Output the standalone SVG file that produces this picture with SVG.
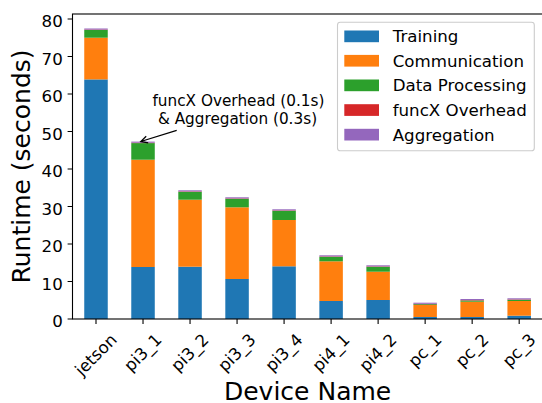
<svg xmlns="http://www.w3.org/2000/svg" width="542" height="403" viewBox="0 0 542 403">
<style>
text{font-family:"DejaVu Sans","Liberation Sans",sans-serif;fill:#000}
.tk{font-size:16.67px}
.yl{text-anchor:end}
.xl{text-anchor:middle;dominant-baseline:central}
.ax{font-size:25px;text-anchor:middle}
.an{font-size:15.28px;text-anchor:middle}
.tr{fill:#1f77b4}.co{fill:#ff7f0e}.dp{fill:#2ca02c}.fx{fill:#d62728}.ag{fill:#9467bd}
.tick{stroke:#000;stroke-width:1.1}
</style>
<rect width="542" height="403" fill="#fff"/>
<g id="bars">
<g id="bar-jetson"><rect class="tr" x="84.25" y="79.4" width="23.5" height="239.6"/><rect class="co" x="84.25" y="37.7" width="23.5" height="41.7"/><rect class="dp" x="84.25" y="30" width="23.5" height="7.7"/><rect class="fx" x="84.25" y="29.6" width="23.5" height="0.4"/><rect class="ag" x="84.25" y="28.5" width="23.5" height="1.1"/></g>
<g id="bar-pi3_1"><rect class="tr" x="131.27" y="267" width="23.5" height="52"/><rect class="co" x="131.27" y="159.7" width="23.5" height="107.3"/><rect class="dp" x="131.27" y="143.1" width="23.5" height="16.6"/><rect class="fx" x="131.27" y="142.7" width="23.5" height="0.4"/><rect class="ag" x="131.27" y="141.6" width="23.5" height="1.1"/></g>
<g id="bar-pi3_2"><rect class="tr" x="178.29" y="266.7" width="23.5" height="52.3"/><rect class="co" x="178.29" y="199.7" width="23.5" height="67"/><rect class="dp" x="178.29" y="191.8" width="23.5" height="7.9"/><rect class="fx" x="178.29" y="191.4" width="23.5" height="0.4"/><rect class="ag" x="178.29" y="190.3" width="23.5" height="1.1"/></g>
<g id="bar-pi3_3"><rect class="tr" x="225.31" y="279" width="23.5" height="40"/><rect class="co" x="225.31" y="207.3" width="23.5" height="71.7"/><rect class="dp" x="225.31" y="198.8" width="23.5" height="8.5"/><rect class="fx" x="225.31" y="198.4" width="23.5" height="0.4"/><rect class="ag" x="225.31" y="197.3" width="23.5" height="1.1"/></g>
<g id="bar-pi3_4"><rect class="tr" x="272.33" y="266.3" width="23.5" height="52.7"/><rect class="co" x="272.33" y="220" width="23.5" height="46.3"/><rect class="dp" x="272.33" y="210.8" width="23.5" height="9.2"/><rect class="fx" x="272.33" y="210.4" width="23.5" height="0.4"/><rect class="ag" x="272.33" y="209.3" width="23.5" height="1.1"/></g>
<g id="bar-pi4_1"><rect class="tr" x="319.35" y="301" width="23.5" height="18"/><rect class="co" x="319.35" y="261.3" width="23.5" height="39.7"/><rect class="dp" x="319.35" y="256.8" width="23.5" height="4.5"/><rect class="fx" x="319.35" y="256.4" width="23.5" height="0.4"/><rect class="ag" x="319.35" y="255.3" width="23.5" height="1.1"/></g>
<g id="bar-pi4_2"><rect class="tr" x="366.37" y="300" width="23.5" height="19"/><rect class="co" x="366.37" y="271.7" width="23.5" height="28.3"/><rect class="dp" x="366.37" y="266.8" width="23.5" height="4.9"/><rect class="fx" x="366.37" y="266.4" width="23.5" height="0.4"/><rect class="ag" x="366.37" y="265.3" width="23.5" height="1.1"/></g>
<g id="bar-pc_1"><rect class="tr" x="413.39" y="317" width="23.5" height="2"/><rect class="co" x="413.39" y="305" width="23.5" height="12"/><rect class="dp" x="413.39" y="304.2" width="23.5" height="0.8"/><rect class="fx" x="413.39" y="303.8" width="23.5" height="0.4"/><rect class="ag" x="413.39" y="302.7" width="23.5" height="1.1"/></g>
<g id="bar-pc_2"><rect class="tr" x="460.41" y="317" width="23.5" height="2"/><rect class="co" x="460.41" y="301.7" width="23.5" height="15.3"/><rect class="dp" x="460.41" y="300.5" width="23.5" height="1.2"/><rect class="fx" x="460.41" y="300.1" width="23.5" height="0.4"/><rect class="ag" x="460.41" y="299" width="23.5" height="1.1"/></g>
<g id="bar-pc_3"><rect class="tr" x="507.43" y="315.7" width="23.5" height="3.3"/><rect class="co" x="507.43" y="301" width="23.5" height="14.7"/><rect class="dp" x="507.43" y="299.8" width="23.5" height="1.2"/><rect class="fx" x="507.43" y="299.4" width="23.5" height="0.4"/><rect class="ag" x="507.43" y="298.3" width="23.5" height="1.1"/></g>
</g>
<g id="axes">
<rect x="72.5" y="14" width="470.2" height="305" fill="none" stroke="#000" stroke-width="1.1"/>
<path class="tick" d="M67.6 319H72.5M67.6 281.5H72.5M67.6 244H72.5M67.6 206.5H72.5M67.6 169H72.5M67.6 131.5H72.5M67.6 94H72.5M67.6 56.5H72.5M67.6 19H72.5"/>
<path class="tick" d="M96 319V323.9M143.02 319V323.9M190.04 319V323.9M237.06 319V323.9M284.08 319V323.9M331.1 319V323.9M378.12 319V323.9M425.14 319V323.9M472.16 319V323.9M519.18 319V323.9"/>
<g class="tk yl">
<text x="62.8" y="327">0</text>
<text x="62.8" y="289.5">10</text>
<text x="62.8" y="252">20</text>
<text x="62.8" y="214.5">30</text>
<text x="62.8" y="177">40</text>
<text x="62.8" y="139.5">50</text>
<text x="62.8" y="102">60</text>
<text x="62.8" y="64.5">70</text>
<text x="62.8" y="27">80</text>
</g>
<g class="tk xl">
<text x="96" y="354.9" transform="rotate(-45 96 354.9)">jetson</text>
<text x="143.02" y="352.7" transform="rotate(-45 143.02 352.7)">pi3_1</text>
<text x="190.04" y="352.7" transform="rotate(-45 190.04 352.7)">pi3_2</text>
<text x="237.06" y="352.7" transform="rotate(-45 237.06 352.7)">pi3_3</text>
<text x="284.08" y="352.7" transform="rotate(-45 284.08 352.7)">pi3_4</text>
<text x="331.1" y="352.7" transform="rotate(-45 331.1 352.7)">pi4_1</text>
<text x="378.12" y="352.7" transform="rotate(-45 378.12 352.7)">pi4_2</text>
<text x="425.14" y="350.5" transform="rotate(-45 425.14 350.5)">pc_1</text>
<text x="472.16" y="350.5" transform="rotate(-45 472.16 350.5)">pc_2</text>
<text x="519.18" y="350.5" transform="rotate(-45 519.18 350.5)">pc_3</text>
</g>
<text class="ax" x="307.6" y="399.5">Device Name</text>
<text class="ax" x="30" y="166.5" transform="rotate(-90 30 166.5)">Runtime (seconds)</text>
</g>
<g id="annotation">
<text class="an" x="238.5" y="106.3">funcX Overhead (0.1s)</text>
<text class="an" x="237.5" y="124">&amp; Aggregation (0.3s)</text>
<path d="M176.7 130.3L140.8 141.5M146.2 136.2L140.8 141.5L148.2 142.8" fill="none" stroke="#000" stroke-width="1.3"/>
</g>
<g id="legend">
<rect x="337.5" y="22.3" width="196.8" height="128.4" rx="2.8" fill="#fff" fill-opacity="0.8" stroke="#cccccc" stroke-width="1.1"/>
<rect class="tr" x="344.3" y="30.5" width="34.7" height="11.7"/>
<rect class="co" x="344.3" y="54.9" width="34.7" height="11.7"/>
<rect class="dp" x="344.3" y="79.5" width="34.7" height="11.7"/>
<rect class="fx" x="344.3" y="104.2" width="34.7" height="11.7"/>
<rect class="ag" x="344.3" y="128.8" width="34.7" height="11.7"/>
<g class="tk">
<text x="392.7" y="42.3">Training</text>
<text x="392.7" y="66.7">Communication</text>
<text x="392.7" y="91.3">Data Processing</text>
<text x="392.7" y="116">funcX Overhead</text>
<text x="392.7" y="140.6">Aggregation</text>
</g>
</g>
</svg>
